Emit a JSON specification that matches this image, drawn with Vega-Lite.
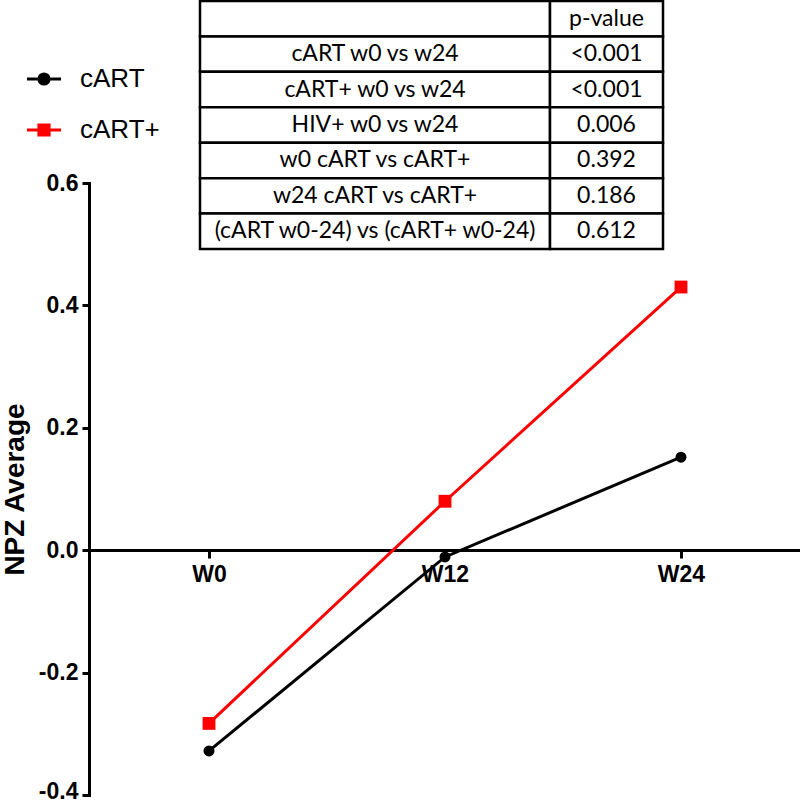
{
  "$schema": "https://vega.github.io/schema/vega-lite/v6.json",
  "width": 800,
  "height": 803,
  "autosize": "none",
  "padding": 0,
  "background": "white",
  "config": {"view": {"stroke": null}, "font": "Liberation Sans"},
  "datasets": {
    "series": [
      {"group": "cART", "week": 0, "npz": -0.328},
      {"group": "cART", "week": 12, "npz": -0.011},
      {"group": "cART", "week": 24, "npz": 0.152},
      {"group": "cART+", "week": 0, "npz": -0.283},
      {"group": "cART+", "week": 12, "npz": 0.080},
      {"group": "cART+", "week": 24, "npz": 0.430}
    ],
    "table": [
      {"row": 0, "label": "", "p": "p-value"},
      {"row": 1, "label": "cART w0 vs w24", "p": "<0.001"},
      {"row": 2, "label": "cART+ w0 vs w24", "p": "<0.001"},
      {"row": 3, "label": "HIV+ w0 vs w24", "p": "0.006"},
      {"row": 4, "label": "w0 cART vs cART+", "p": "0.392"},
      {"row": 5, "label": "w24 cART vs cART+", "p": "0.186"},
      {"row": 6, "label": "(cART w0-24) vs (cART+ w0-24)", "p": "0.612"}
    ]
  },
  "layer": [
    {
      "data": {"name": "series"},
      "encoding": {
        "x": {
          "field": "week", "type": "quantitative",
          "scale": {"domain": [-6.102, 30.051], "range": [89, 800], "nice": false, "zero": false},
          "axis": {
            "values": [0, 12, 24], "labelExpr": "'W' + datum.value", "title": null,
            "offset": -253, "domainWidth": 3, "domainColor": "black", "domainCap": "square",
            "tickWidth": 3, "tickColor": "black", "tickSize": 8,
            "labelFont": "Liberation Sans", "labelFontSize": 23, "labelFontWeight": "bold", "labelColor": "black",
            "labelPadding": 5, "grid": false, "labelOverlap": false, "labelFlush": false
          }
        },
        "y": {
          "field": "npz", "type": "quantitative",
          "scale": {"domain": [-0.4, 0.6], "range": [795, 183], "nice": false, "zero": false},
          "axis": {
            "values": [-0.4, -0.2, 0, 0.2, 0.4, 0.6],
            "labelExpr": "replace(format(datum.value, '.1f'), '\u2212', '-')",
            "title": "NPZ Average", "titleX": -74, "titleBaseline": "middle",
            "titleFont": "Liberation Sans", "titleFontSize": 28, "titleFontWeight": "bold", "titleColor": "black",
            "offset": -89, "domainWidth": 3, "domainColor": "black", "domainCap": "square",
            "tickWidth": 3, "tickColor": "black", "tickSize": 7,
            "labelFont": "Liberation Sans", "labelFontSize": 23, "labelFontWeight": "bold", "labelColor": "black",
            "labelOffset": {"condition": {"test": "datum.value < -0.35", "value": -4}, "value": 0},
            "labelPadding": 4, "grid": false, "labelOverlap": false, "labelFlush": false
          }
        },
        "color": {
          "field": "group", "type": "nominal",
          "scale": {"domain": ["cART", "cART+"], "range": ["black", "#ff0000"]},
          "legend": {
            "orient": "none", "legendX": 25.5, "legendY": 60.5, "title": null, "padding": 0,
            "labelFont": "Liberation Sans", "labelFontSize": 26, "labelColor": "black", "labelOffset": 17.5,
            "symbolSize": 1156, "symbolStrokeWidth": 3, "rowPadding": 19, "symbolOpacity": 1,
            "encode": {
              "symbols": {
                "update": {
                  "shape": {"signal": "datum.value === 'cART' ? 'M-1,0H1M-0.3,0A0.3,0.3 0 1,0 0.3,0A0.3,0.3 0 1,0 -0.3,0Z' : 'M-1,0H1M-0.3,-0.3H0.3V0.3H-0.3Z'"},
                  "fill": {"signal": "datum.value === 'cART' ? 'black' : '#ff0000'"},
                  "stroke": {"signal": "datum.value === 'cART' ? 'black' : '#ff0000'"},
                  "strokeWidth": {"value": 3},
                  "opacity": {"value": 1}
                }
              }
            }
          }
        }
      },
      "layer": [
        {"mark": {"type": "line", "strokeWidth": 3}},
        {
          "transform": [{"filter": "datum.group === 'cART'"}],
          "mark": {"type": "point", "filled": true, "opacity": 1, "shape": "circle", "size": 120}
        },
        {
          "transform": [{"filter": "datum.group === 'cART+'"}],
          "mark": {"type": "point", "filled": true, "opacity": 1, "shape": "square", "size": 165}
        }
      ]
    },
    {
      "data": {"name": "table"},
      "encoding": {
        "x": {"datum": "label", "type": "nominal", "scale": {"domain": ["label"], "range": [200, 550], "paddingInner": 0, "paddingOuter": 0}, "axis": null},
        "y": {"field": "row", "type": "ordinal", "scale": {"domain": [0, 1, 2, 3, 4, 5, 6], "range": [1, 249], "paddingInner": 0, "paddingOuter": 0}, "axis": null}
      },
      "layer": [
        {"mark": {"type": "rect", "fill": "white", "stroke": "black", "strokeWidth": 2.5}},
        {"mark": {"type": "text", "font": "Lato", "fontSize": 23, "fill": "black", "baseline": "middle", "align": "center"}, "encoding": {"text": {"field": "label"}}}
      ]
    },
    {
      "data": {"name": "table"},
      "encoding": {
        "x": {"datum": "p", "type": "nominal", "scale": {"domain": ["p"], "range": [550, 663], "paddingInner": 0, "paddingOuter": 0}, "axis": null},
        "y": {"field": "row", "type": "ordinal", "scale": {"domain": [0, 1, 2, 3, 4, 5, 6], "range": [1, 249], "paddingInner": 0, "paddingOuter": 0}, "axis": null}
      },
      "layer": [
        {"mark": {"type": "rect", "fill": "white", "stroke": "black", "strokeWidth": 2.5}},
        {"mark": {"type": "text", "font": "Lato", "fontSize": 23, "fill": "black", "baseline": "middle", "align": "center"}, "encoding": {"text": {"field": "p"}}}
      ]
    }
  ],
  "resolve": {"scale": {"x": "independent", "y": "independent"}}
}
